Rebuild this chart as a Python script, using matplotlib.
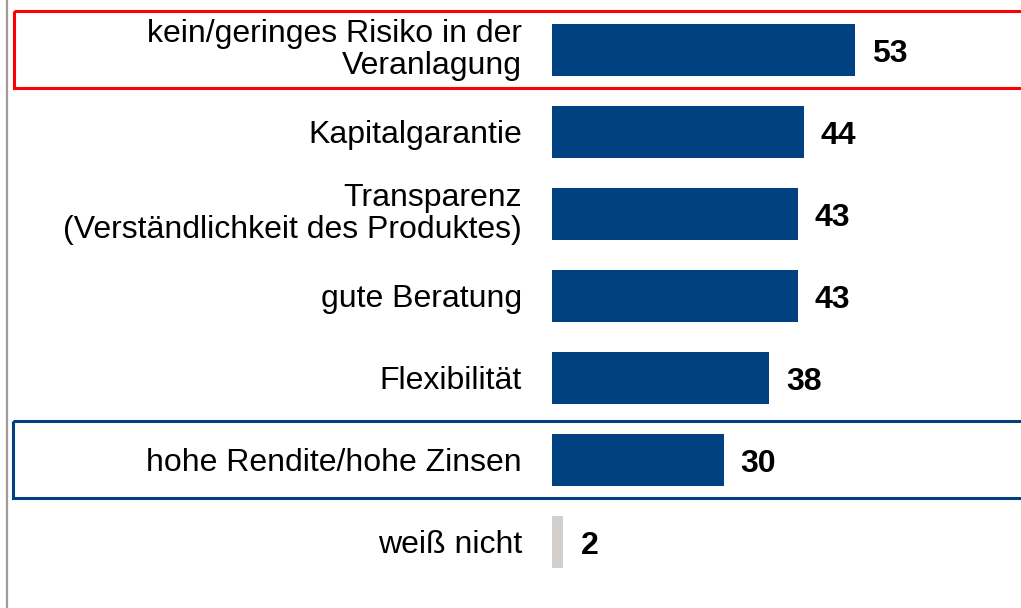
import matplotlib
matplotlib.use('Agg')
import matplotlib.pyplot as plt
import matplotlib.patches as mpatches
import matplotlib.transforms as mtransforms

# ── Data ────────────────────────────────────────────────────────────
labels = [
    "kein/geringes Risiko in der\nVeranlagung",
    "Kapitalgarantie",
    "Transparenz\n(Verständlichkeit des Produktes)",
    "gute Beratung",
    "Flexibilität",
    "hohe Rendite/hohe Zinsen",
    "weiß nicht",
]
values = [53, 44, 43, 43, 38, 30, 2]
bar_colors = ["#004182"] * 6 + ["#D3CFCD"]

# ── Figure ──────────────────────────────────────────────────────────
plt.rcParams['font.family'] = ['Liberation Sans', 'DejaVu Sans']
fig = plt.figure(figsize=(10.21, 6.08), dpi=100)
ax = fig.add_axes([0, 0, 1, 1])

px = 303 / 53.0          # pixels per unit
x0 = 552                 # pixel position of zero
ax.set_xlim(-x0 / px, (1021 - x0) / px)
ax.set_ylim((608 - 50) / 82.0, -50 / 82.0)
ax.axis('off')

ypos = list(range(len(values)))
ax.barh(ypos, values, height=0.635, color=bar_colors, zorder=2)

for y, v, lab in zip(ypos, values, labels):
    ax.text(v + 17 / px, y + 0.05, str(v), ha='left', va='center',
            fontsize=23, fontweight='bold', color='black')
    dy = 0.0 if "\n" in lab else 0.04
    ax.text(-30 / px, y + dy, lab, ha='right', va='center',
            fontsize=23, color='black', linespacing=1.05)

# highlight boxes (axes x, data y)
trans = mtransforms.blended_transform_factory(ax.transAxes, ax.transData)
ax.add_patch(mpatches.Rectangle((14 / 1021, -0.47), 1.2, 0.93,
                                transform=trans, fill=False,
                                edgecolor='#FF0000', linewidth=2.2,
                                clip_on=False, zorder=3))
ax.add_patch(mpatches.Rectangle((13 / 1021, 5 - 0.47), 1.2, 0.93,
                                transform=trans, fill=False,
                                edgecolor='#003F80', linewidth=2.2,
                                clip_on=False, zorder=3))

# left gray rule
fig.add_artist(plt.Line2D([7 / 1021, 7 / 1021], [0, 1], color='#A39A98',
                          linewidth=1.6, transform=fig.transFigure))

fig.savefig('out.png', dpi=100, facecolor='white')
plt.close()
